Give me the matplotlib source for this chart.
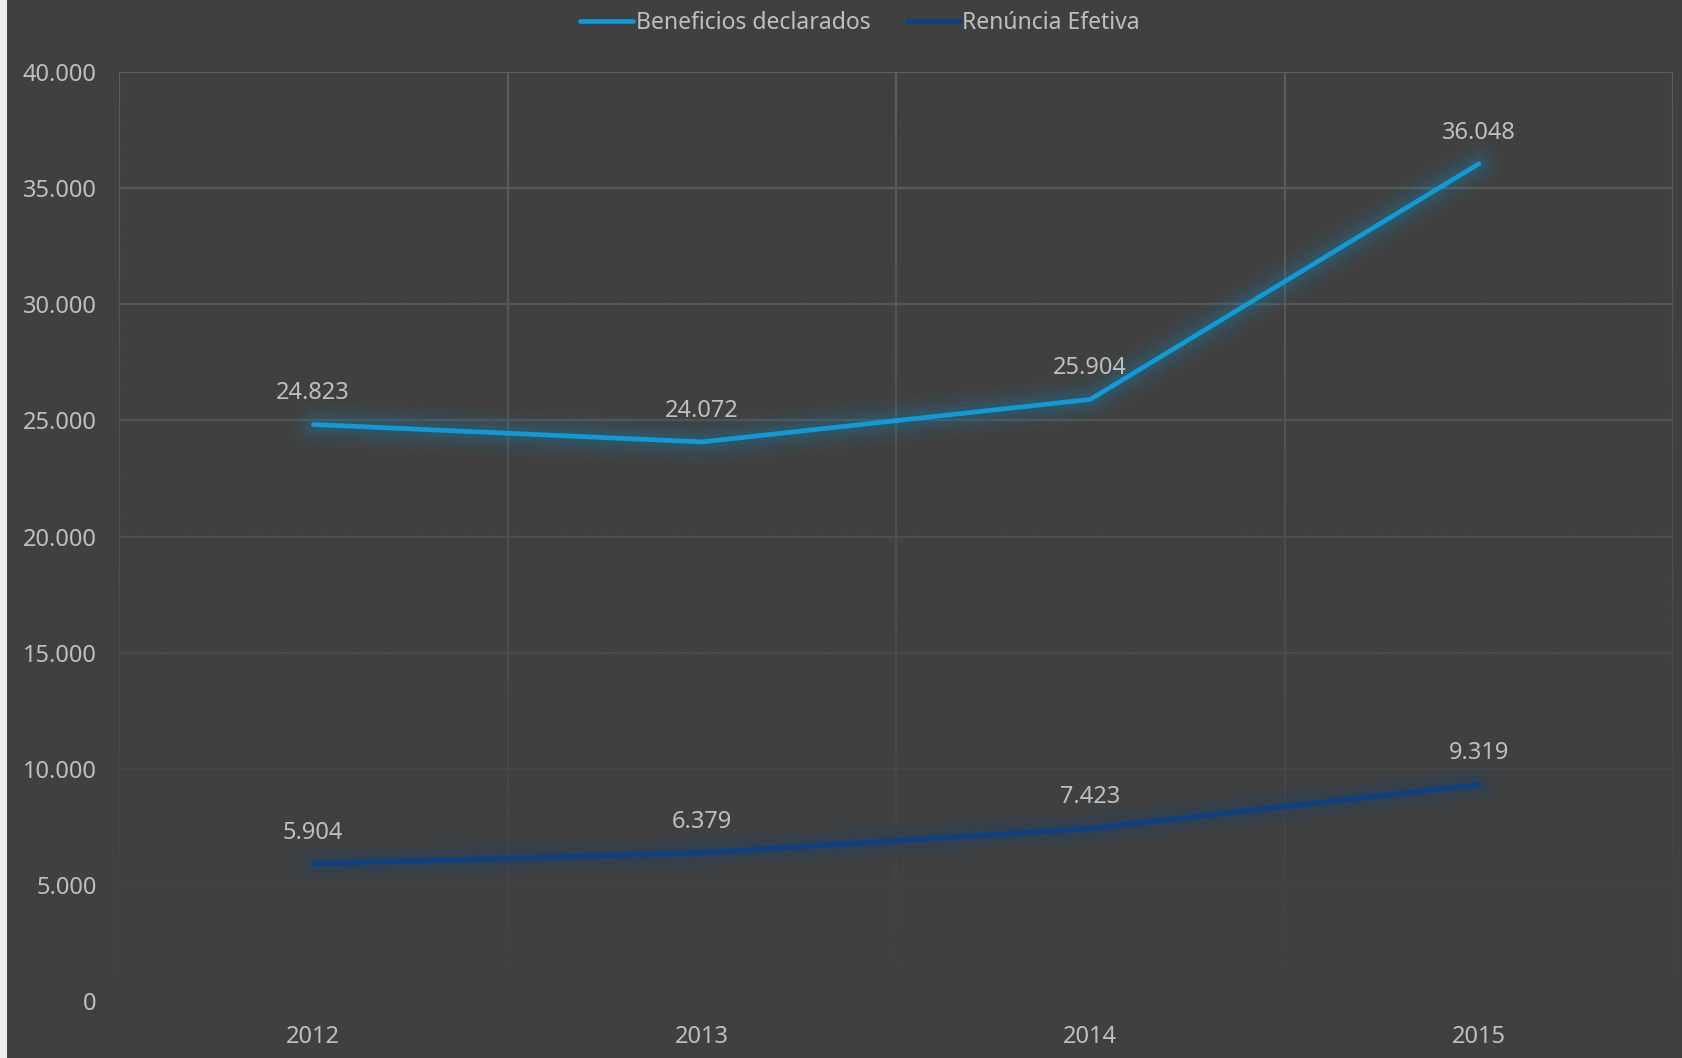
import numpy as np
import matplotlib.pyplot as plt
from matplotlib.patches import Rectangle

# Dados da série
anos = ["2012", "2013", "2014", "2015"]
beneficios = [24823, 24072, 25904, 36048]
renuncia = [5904, 6379, 7423, 9319]

fundo = "#404040"
texto = "#bfbfbf"
cor_grade = "#5e5e5e"
azul_claro = "#0f9bd7"
azul_escuro = "#0b4187"

plt.rcParams["font.family"] = ["Noto Sans", "DejaVu Sans"]

fig = plt.figure(figsize=(16.83, 10.58), dpi=100, facecolor=fundo)
ax = fig.add_axes([0.0707, 0.0539, 0.9234, 0.878])
ax.set_facecolor(fundo)

# faixa clara na borda esquerda
fig.patches.append(Rectangle((0, 0), 7 / 1683, 1, transform=fig.transFigure,
                             facecolor="#ececec", edgecolor="none"))

x = np.arange(len(anos))
ax.set_xlim(-0.5, len(anos) - 0.5)
ax.set_ylim(0, 40000)

# grade
ax.set_yticks(np.arange(0, 40001, 5000))
ax.set_xticks(x)
ax.set_xticklabels(anos)
for yv in range(5000, 40001, 5000):
    ax.axhline(yv, color=cor_grade, lw=1.6, zorder=1)
for xv in np.arange(-0.5, len(anos), 1.0):
    ax.axvline(xv, color=cor_grade, lw=1.6, zorder=1)

# esmaecimento da grade para baixo
grad = np.zeros((256, 2, 4))
grad[:, :, :3] = np.array([0x40, 0x40, 0x40]) / 255
grad[:, :, 3] = np.linspace(1.0, 0.0, 256)[:, None]
ax.imshow(grad, extent=(-0.5, len(anos) - 0.5, 0, 40000), aspect="auto",
          origin="lower", zorder=1.5, interpolation="bilinear")

# linhas com brilho
def linha_brilho(valores, cor, rotulo):
    for w, a in [(32, 0.035), (24, 0.05), (17, 0.07), (10, 0.09)]:
        ax.plot(x, valores, color=cor, lw=w, alpha=a, solid_capstyle="round",
                solid_joinstyle="round", zorder=2)
    ax.plot(x, valores, color=cor, lw=3.4, solid_capstyle="round",
            solid_joinstyle="miter", zorder=3, label=rotulo)
    for xi, v in zip(x, valores):
        ax.annotate(f"{v:,}".replace(",", "."), (xi, v), xytext=(0, 22.5),
                    textcoords="offset points", ha="center", va="center",
                    color=texto, fontsize=17, zorder=4)

linha_brilho(beneficios, azul_claro, "Beneficios declarados")
linha_brilho(renuncia, azul_escuro, "Renúncia Efetiva")

ax.yaxis.set_major_formatter(plt.FuncFormatter(lambda v, p: f"{int(v):,}".replace(",", ".")))
ax.tick_params(axis="both", length=0, colors=texto, labelsize=17)
ax.tick_params(axis="y", pad=16)
ax.tick_params(axis="x", pad=17)
for s in ax.spines.values():
    s.set_visible(False)

fig.legend(loc="upper center", bbox_to_anchor=(0.511, 1.009), ncol=2, frameon=False,
           fontsize=16.5, labelcolor=texto, handlelength=2.3, handletextpad=0.12,
           columnspacing=1.6)

fig.savefig("out.png", dpi=100, facecolor=fundo)
